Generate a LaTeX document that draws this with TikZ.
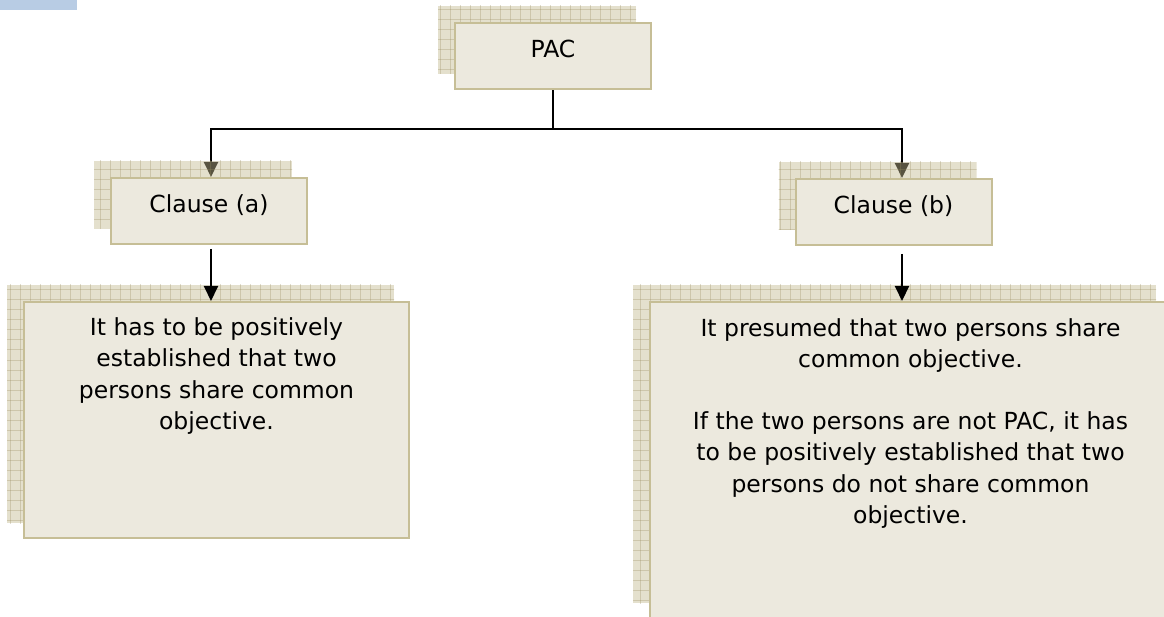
\documentclass[tikz,border=0pt]{standalone}
\usepackage{fontspec}
\setmainfont{DejaVu Sans}
\usetikzlibrary{arrows.meta,positioning}
\definecolor{boxfill}{RGB}{236,233,222}
\definecolor{boxline}{RGB}{198,190,150}
\definecolor{shadefill}{RGB}{196,186,144}
\definecolor{shadegrid}{RGB}{150,140,95}
\definecolor{tabblue}{RGB}{184,204,228}
\pgfdeclarelayer{links}
\pgfdeclarelayer{sheets}
\pgfsetlayers{links,sheets,main}
\tikzset{
  frontbox/.style={draw=boxline, fill=boxfill, line width=2pt, inner sep=0pt},
  smallbox/.style={frontbox, minimum width=196pt, minimum height=66pt,
    text height=17pt, text depth=14pt, font=\fontsize{23.5}{31.5}\selectfont},
  bodytext/.style={align=center, inner sep=0pt, font=\fontsize{23.5}{31.5}\selectfont},
  link/.style={line width=2pt, -{Triangle[width=14pt,length=15pt]}},
  sheetgrid/.style={shadegrid, line width=1pt, opacity=0.3},
}
% sheet behind a box, shifted up and left
\newcommand\backsheet[1]{%
  \begin{scope}
    \clip ([shift={(-16,-16)}]#1.south west) rectangle ([shift={(-16,-16)}]#1.north east);
    \fill[shadefill, fill opacity=0.45] ([shift={(-16,-16)}]#1.south west) rectangle ([shift={(-16,-16)}]#1.north east);
    \foreach \gx in {0,10,...,1170} \draw[sheetgrid] (\gx,0) -- (\gx,630);
    \foreach \gy in {0,10,...,630} \draw[sheetgrid] (0,\gy) -- (1170,\gy);
  \end{scope}}
\begin{document}
\begin{tikzpicture}[x=1pt, y=-1pt]
  \useasboundingbox (0,0) rectangle (1164,617);
  \clip (0,0) rectangle (1164,617);
  % tab at the top left
  \fill[tabblue] (0,0) rectangle (77,10);

  \coordinate (colA) at (211,0);
  \coordinate (colB) at (902,0);

  % boxes
  \node[smallbox] (pac) at (553,56) {PAC};
  \node[smallbox] (clausea) at (209,211) {Clause (a)};
  \node[smallbox] (clauseb) at (893.5,212) {Clause (b)};
  \node[frontbox, minimum width=385pt, minimum height=236pt] (leftbox) at (216.5,420) {};
  \node[frontbox, minimum width=521pt, minimum height=316pt] (rightbox) at (910.5,460) {};

  \node[bodytext, below=16pt of leftbox.north] (lefttext)
    {It has to be positively\\ established that two\\ persons share common\\ objective.};
  \node[bodytext, below=17pt of rightbox.north] (righttext)
    {It presumed that two persons share\\ common objective.\\[30pt]
     If the two persons are not PAC, it has\\ to be positively established that two\\
     persons do not share common\\ objective.};

  % sheets behind
  \begin{pgfonlayer}{sheets}
    \backsheet{pac}
    \backsheet{clausea}
    \backsheet{clauseb}
    \backsheet{leftbox}
    \backsheet{rightbox}
  \end{pgfonlayer}

  % connectors
  \begin{pgfonlayer}{links}
    \draw[link] (pac.south) -- ++(0,39) -| (clausea.north -| colA);
    \draw[link] (pac.south) -- ++(0,39) -| (clauseb.north -| colB);
  \end{pgfonlayer}
  \draw[link, shorten <=4pt] (clausea.south -| colA) -- (leftbox.north -| colA);
  \draw[link, shorten <=8pt] (clauseb.south -| colB) -- (rightbox.north -| colB);
\end{tikzpicture}
\end{document}
